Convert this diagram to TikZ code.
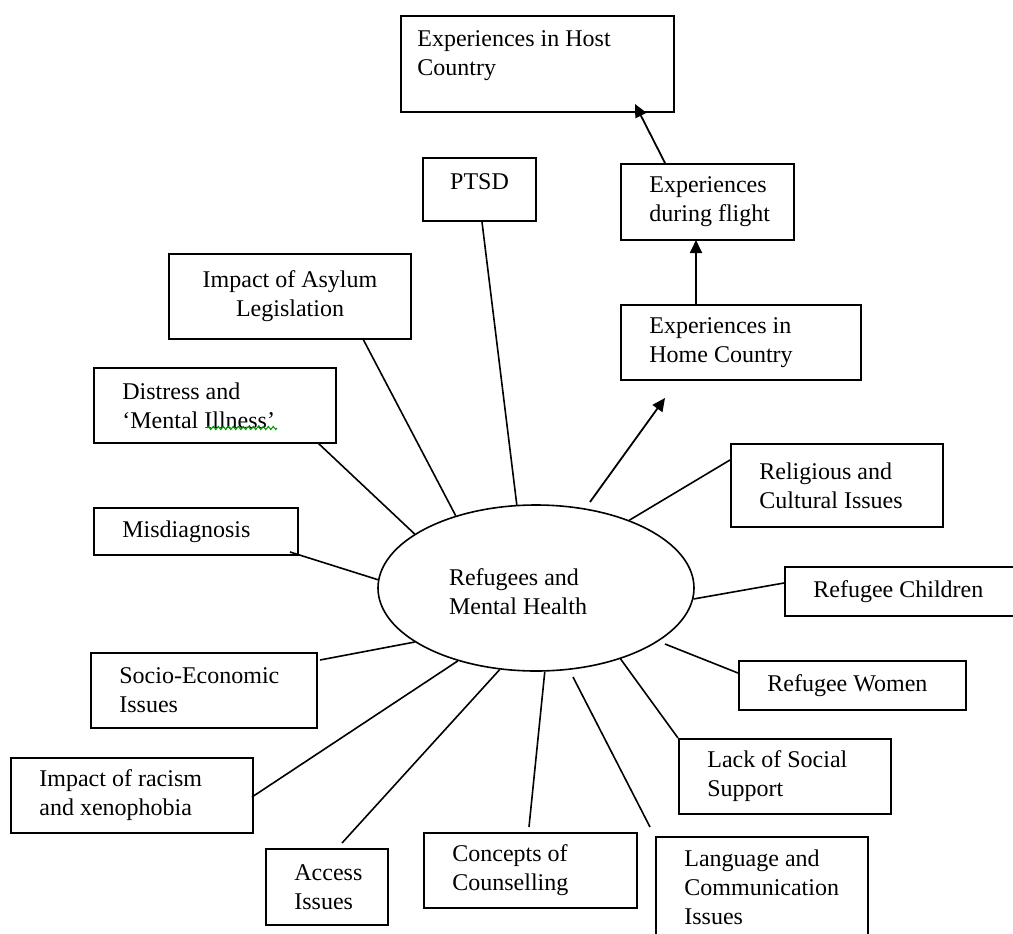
\documentclass[tikz,border=0pt]{standalone}
\usepackage{fontspec}
\setmainfont{Liberation Serif}
\usetikzlibrary{arrows.meta,decorations.pathmorphing}
\tikzset{
  topic/.style={draw, rectangle, line width=1pt, anchor=north west, inner sep=0pt},
  lbl/.style={anchor=west, align=left, inner xsep=14.5pt, inner ysep=0pt, font=\fontsize{12}{14.5}\selectfont},
  hub/.style={draw, ellipse, line width=0.8pt, inner sep=0pt, minimum width=158pt, minimum height=83pt},
  spoke/.style={line width=0.8pt},
  flow/.style={line width=0.9pt, -{Triangle[length=6.5pt,width=6pt]}},
}
\usetikzlibrary{shapes.geometric}
\begin{document}
\begin{tikzpicture}[x=0.5pt, y=-0.5pt]
\useasboundingbox (0,0) rectangle (1013,933);

% centre
\node[hub] (hub) at (536,588) {};
\node[lbl, anchor=center] (hub-t) at (518,592) {Refugees and\\Mental Health};

% boxes
\node[topic, minimum width=136.5pt, minimum height=48pt] (host) at (400,15) {};
\node[lbl, anchor=north west, inner xsep=8.5pt, inner ysep=7.8pt] (host-t) at (host.north west) {Experiences in Host\\Country};
\node[topic, minimum width=56.5pt, minimum height=31.5pt] (ptsd) at (422,157) {};
\node[lbl, anchor=north, align=center, inner ysep=8pt] (ptsd-t) at (ptsd.north) {PTSD};
\node[topic, minimum width=86.5pt, minimum height=38pt] (flight) at (620,163) {};
\node[lbl] (flight-t) at (flight.west) {Experiences\\during flight};
\node[topic, minimum width=120pt, minimum height=37.5pt] (home) at (620,304) {};
\node[lbl] (home-t) at (home.west) {Experiences in\\Home Country};
\node[topic, minimum width=121pt, minimum height=42.5pt] (asylum) at (168,253) {};
\node[lbl, anchor=center, align=center] (asylum-t) at (asylum.center) {Impact of Asylum\\Legislation};
\node[topic, minimum width=121pt, minimum height=37.5pt] (distress) at (93,367) {};
\node[lbl] (distress-t) at (distress.west) {Distress and\\‘Mental Illness’};
\node[topic, minimum width=102pt, minimum height=23.5pt] (misdiag) at (93,507) {};
\node[lbl] (misdiag-t) at (misdiag.west) {Misdiagnosis};
\node[topic, minimum width=113pt, minimum height=37.5pt] (socio) at (90,652) {};
\node[lbl] (socio-t) at (socio.west) {Socio-Economic\\Issues};
\node[topic, minimum width=121pt, minimum height=37.5pt] (racism) at (10,757) {};
\node[lbl] (racism-t) at (racism.west) {Impact of racism\\and xenophobia};
\node[topic, minimum width=61pt, minimum height=38pt] (access) at (265,848) {};
\node[lbl] (access-t) at (access.west) {Access\\Issues};
\node[topic, minimum width=106.5pt, minimum height=37.5pt] (concepts) at (423,832) {};
\node[lbl] (concepts-t) at (concepts.west) {Concepts of\\Counselling};
\node[topic, minimum width=106pt, minimum height=54.5pt] (language) at (655,836) {};
\node[lbl, anchor=north west, inner ysep=6.5pt] (language-t) at (language.north west) {Language and\\Communication\\Issues};
\node[topic, minimum width=106pt, minimum height=37.5pt] (lack) at (678,738) {};
\node[lbl] (lack-t) at (lack.west) {Lack of Social\\Support};
\node[topic, minimum width=106pt, minimum height=41.5pt] (relig) at (730,443) {};
\node[lbl] (relig-t) at (relig.west) {Religious and\\Cultural Issues};
\node[topic, minimum width=123pt, minimum height=24.5pt] (children) at (784,566) {};
\node[lbl] (children-t) at (children.west) {Refugee Children};
\node[topic, minimum width=113.5pt, minimum height=24.5pt] (women) at (738,660) {};
\node[lbl] (women-t) at (women.west) {Refugee Women};

% loose ends of the spokes
\coordinate (asylum-e) at (363,339);
\coordinate (distress-e) at (318,443);
\coordinate (misdiag-e) at (290,552);
\coordinate (ptsd-e) at (482,222);
\coordinate (socio-e) at (320,660);
\coordinate (racism-e) at (252,797);
\coordinate (access-e) at (342,843);
\coordinate (concepts-e) at (529,827);
\coordinate (language-s) at (573,677);
\coordinate (language-e) at (650,827);
\coordinate (women-s) at (665,644);
\coordinate (women-e) at (738,673);
\coordinate (children-e) at (784,583);
\coordinate (relig-e) at (730,460);
\coordinate (home-s) at (590,502);
\coordinate (home-e) at (665,398);
\coordinate (flight-s) at (696,304);
\coordinate (flight-e) at (696,240);
\coordinate (host-s) at (665,163);
\coordinate (host-e) at (635,104);

\draw[spoke] (hub.138) -- (asylum-e);
\draw[spoke] (hub.156) -- (distress-e);
\draw[spoke] (hub.177) -- (misdiag-e);
\draw[spoke] (hub.103) -- (ptsd-e);
\draw[spoke] (hub.204) -- (socio-e);
\draw[spoke] (hub.223) -- (racism-e);
\draw[spoke] (hub.246) -- (access-e);
\draw[spoke] (hub.276) -- (concepts-e);
\draw[spoke] (language-s) -- (language-e);
\draw[spoke] (hub.-40) -- (lack.north west);
\draw[spoke] (women-s) -- (women-e);
\draw[spoke] (hub.-4) -- (children-e);
\draw[spoke] (hub.36) -- (relig-e);

% flight path
\draw[flow] (home-s) -- (home-e);
\draw[flow] (flight-s) -- (flight-e);
\draw[flow] (host-s) -- (host-e);

% spell-check mark
\draw[green!60!black, line width=0.5pt, decorate, decoration={zigzag, segment length=2.5pt, amplitude=0.8pt}] (207,428) -- (277,428);
\end{tikzpicture}
\end{document}
